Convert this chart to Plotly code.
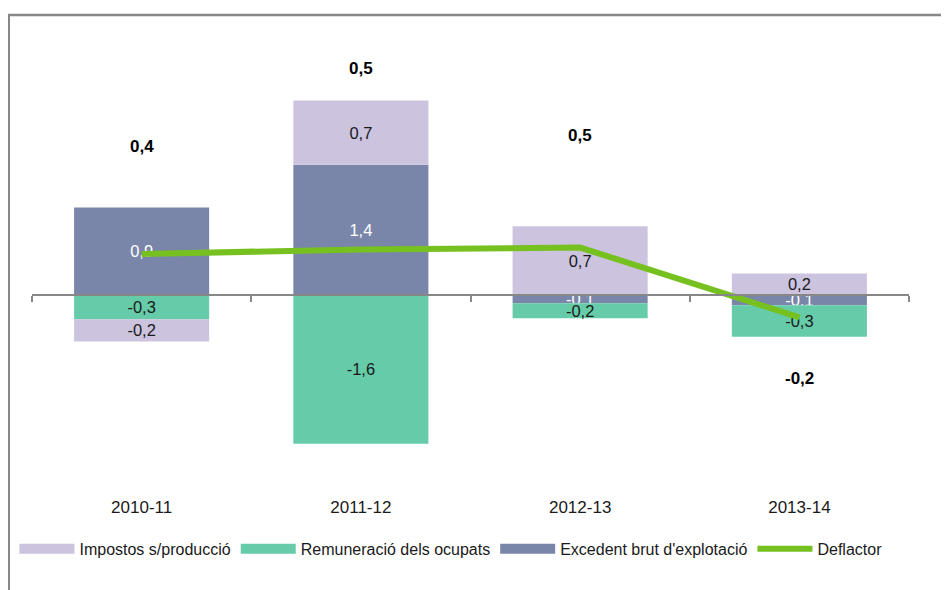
import plotly.graph_objects as go

# dades (variació, punts percentuals)
anys = ['2010-11', '2011-12', '2012-13', '2013-14']
excedent = [0.94, 1.4, -0.09, -0.11]
remuneracio = [-0.26, -1.6, -0.16, -0.34]
impostos = [-0.24, 0.69, 0.74, 0.23]
deflactor = [0.44, 0.49, 0.51, -0.24]

col_imp = '#CCC3DF'
col_rem = '#66CBA8'
col_exc = '#7986A9'
col_def = '#76C11F'

FONT = 'Liberation Sans'


def etiq(vals):
    return [f'{v:.1f}'.replace('.', ',') for v in vals]


fig = go.Figure()

series = [
    ("Excedent brut d'explotació", excedent, col_exc, 'white', 3),
    ('Remuneració dels ocupats', remuneracio, col_rem, '#1a1a1a', 2),
    ('Impostos s/producció', impostos, col_imp, '#1a1a1a', 1),
]
for nom, vals, col, tcol, rank in series:
    fig.add_trace(go.Bar(
        x=anys, y=vals, name=nom, marker=dict(color=col, line=dict(width=0)),
        text=etiq(vals), textposition='inside', insidetextanchor='middle',
        textfont=dict(color=tcol, size=16.5, family=FONT),
        showlegend=False, hoverinfo='skip'))
    # entrada de llegenda amb rectangle ample
    fig.add_trace(go.Scatter(
        x=[None], y=[None], mode='lines', name=nom,
        line=dict(color=col, width=12), legendrank=rank))

fig.add_trace(go.Scatter(
    x=anys, y=deflactor, name='Deflactor', mode='lines',
    line=dict(color=col_def, width=6), legendrank=4, hoverinfo='skip'))

# eix de categories a baix (només etiquetes)
fig.add_trace(go.Scatter(
    x=anys, y=[0] * len(anys), xaxis='x2', mode='markers',
    marker=dict(opacity=0), showlegend=False, hoverinfo='skip'))

# etiquetes del deflactor
pos_etiq = [1.60, 2.44, 1.71, -0.90]
for a, v, yy in zip(anys, etiq(deflactor), pos_etiq):
    fig.add_annotation(x=a, y=yy, text='<b>' + v + '</b>', showarrow=False,
                       font=dict(size=17, color='black', family=FONT))

# marc del gràfic
fig.add_shape(type='rect', xref='paper', yref='paper',
              x0=-0.0265, x1=1.08, y0=-0.3, y1=1.0128,
              line=dict(color='#878787', width=2.5))

y_zero = (490 - 294) / 470

fig.update_layout(
    width=949, height=590,
    margin=dict(l=24, r=48, t=13, b=107, autoexpand=False),
    plot_bgcolor='white', paper_bgcolor='white',
    barmode='relative', bargap=0.384,
    separators=',.',
    font=dict(family=FONT, size=16, color='#1a1a1a'),
    uniformtext=dict(minsize=16, mode='show'),
    showlegend=True,
    legend=dict(orientation='h', x=-0.02, xanchor='left', y=-0.123, yanchor='middle',
                itemwidth=55, font=dict(size=16, family=FONT, color='#1a1a1a'),
                tracegroupgap=0),
    xaxis=dict(type='category', anchor='free', position=y_zero,
               showline=True, linecolor='#878787', linewidth=2,
               ticks='outside', tickson='boundaries', ticklen=6, tickwidth=2,
               tickcolor='#878787', showticklabels=False, showgrid=False,
               range=[-0.5, 3.5], automargin=False),
    xaxis2=dict(type='category', overlaying='x', anchor='y', side='bottom',
                showline=False, ticks='', showgrid=False, range=[-0.5, 3.5],
                ticklabelstandoff=4,
                tickfont=dict(size=17, family=FONT, color='#1a1a1a'), automargin=False),
    yaxis=dict(range=[-2.108, 2.946], visible=False, showgrid=False, zeroline=False,
               automargin=False),
)

fig.write_html('out.html')
